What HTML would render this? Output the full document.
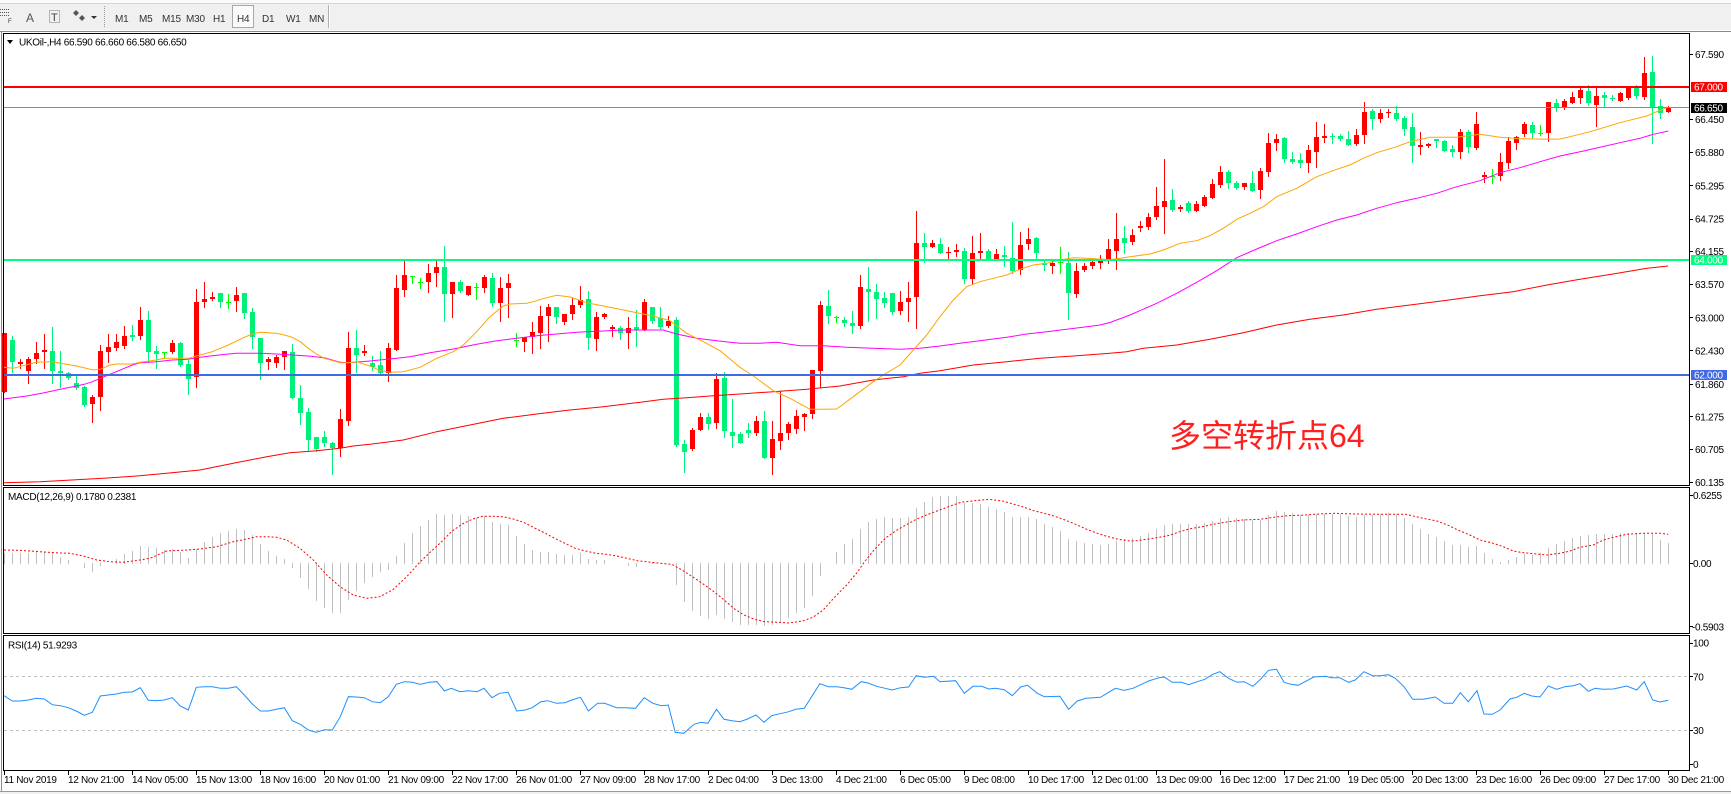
<!DOCTYPE html>
<html><head><meta charset="utf-8">
<style>
html,body{margin:0;padding:0;background:#f0f0f0;width:1731px;height:794px;overflow:hidden;}
svg{display:block;}
text{font-family:"Liberation Sans","Noto Sans CJK SC",sans-serif;}
.s{font-size:10px;letter-spacing:-0.3px;fill:#000;}
.tb{font-size:10px;letter-spacing:-0.2px;fill:#333;}
</style></head><body>
<svg id="s" width="1731" height="794" viewBox="0 0 1731 794" xmlns="http://www.w3.org/2000/svg">
<!-- toolbar -->
<rect x="0" y="0" width="1731" height="30" fill="#f0f0f0"/>
<rect x="0" y="0" width="1731" height="3" fill="#fafafa"/>
<line x1="0" y1="3.5" x2="1731" y2="3.5" stroke="#d4d4d4"/>
<g stroke="#555" stroke-dasharray="1,1">
<line x1="0" y1="9.5" x2="10" y2="9.5"/><line x1="0" y1="12.5" x2="10" y2="12.5"/><line x1="0" y1="15.5" x2="10" y2="15.5"/>
</g>
<text x="8" y="23" style="font-size:6px;fill:#333">F</text>
<text x="26" y="22" style="font-size:12px;fill:#555">A</text>
<rect x="49.5" y="10.5" width="10" height="12" fill="none" stroke="#777" stroke-dasharray="1,1"/>
<text x="51" y="21" style="font-size:11px;fill:#444">T</text>
<polygon points="76,10 79,13 76,16 73,13" fill="#555"/>
<polygon points="82,15 85,18 82,21 79,18" fill="#555"/>
<polygon points="91,16 97,16 94,19" fill="#333"/>
<line x1="104.5" y1="6" x2="104.5" y2="27" stroke="#999" stroke-dasharray="1,1"/>
<rect x="232.5" y="5.5" width="21" height="22" fill="#fbfbfb" stroke="#a8a8a8"/>
<text class="tb" x="115" y="22">M1</text>
<text class="tb" x="139" y="22">M5</text>
<text class="tb" x="162" y="22">M15</text>
<text class="tb" x="186" y="22">M30</text>
<text class="tb" x="213" y="22">H1</text>
<text class="tb" x="237" y="22">H4</text>
<text class="tb" x="262" y="22">D1</text>
<text class="tb" x="286" y="22">W1</text>
<text class="tb" x="309" y="22">MN</text>
<line x1="328.5" y1="5" x2="328.5" y2="28" stroke="#b0b0b0"/>
<line x1="329.5" y1="5" x2="329.5" y2="28" stroke="#fff"/>
<!-- chart background -->
<rect x="0" y="30" width="1731" height="761" fill="#ffffff"/>
<g id="plot" shape-rendering="crispEdges"></g>
<g id="lines"></g>
<!-- frames -->
<g fill="none" stroke="#000" shape-rendering="crispEdges">
<line x1="0" y1="31.5" x2="1731" y2="31.5" stroke="#8a8a8a"/>
<line x1="1.5" y1="31" x2="1.5" y2="791" stroke="#8a8a8a"/>
<rect x="3.5" y="33.5" width="1686" height="452"/>
<rect x="3.5" y="487.5" width="1686" height="146"/>
<rect x="3.5" y="635.5" width="1686" height="135"/>
</g>
<rect x="0" y="791" width="1731" height="3" fill="#f0f0f0"/>
<line x1="0" y1="791.5" x2="1731" y2="791.5" stroke="#9a9a9a"/>
<!-- title -->
<polygon points="7,40 13,40 10,44" fill="#000"/>
<text class="s" x="19" y="45.5">UKOil-,H4  66.590 66.660 66.580 66.650</text>
<text class="s" x="8" y="500">MACD(12,26,9) 0.1780 0.2381</text>
<text class="s" x="8" y="648.5">RSI(14) 51.9293</text>
<!-- price axis -->
<g shape-rendering="crispEdges" stroke="#000">
<line x1="1689" y1="54.5" x2="1693" y2="54.5"/>
<line x1="1689" y1="119.5" x2="1693" y2="119.5"/>
<line x1="1689" y1="152.5" x2="1693" y2="152.5"/>
<line x1="1689" y1="185.5" x2="1693" y2="185.5"/>
<line x1="1689" y1="219.5" x2="1693" y2="219.5"/>
<line x1="1689" y1="251.5" x2="1693" y2="251.5"/>
<line x1="1689" y1="284.5" x2="1693" y2="284.5"/>
<line x1="1689" y1="317.5" x2="1693" y2="317.5"/>
<line x1="1689" y1="350.5" x2="1693" y2="350.5"/>
<line x1="1689" y1="384.5" x2="1693" y2="384.5"/>
<line x1="1689" y1="416.5" x2="1693" y2="416.5"/>
<line x1="1689" y1="449.5" x2="1693" y2="449.5"/>
<line x1="1689" y1="482.5" x2="1693" y2="482.5"/>
<line x1="1689" y1="495.5" x2="1693" y2="495.5"/>
<line x1="1689" y1="563.5" x2="1693" y2="563.5"/>
<line x1="1689" y1="626.5" x2="1693" y2="626.5"/>
<line x1="1689" y1="643.5" x2="1693" y2="643.5"/>
<line x1="1689" y1="676.5" x2="1693" y2="676.5"/>
<line x1="1689" y1="730.5" x2="1693" y2="730.5"/>
<line x1="1689" y1="764.5" x2="1693" y2="764.5"/>
</g>
<text class="s" x="1695" y="58">67.590</text>
<rect x="1691" y="82" width="36" height="10" fill="#ff0000"/>
<text class="s" x="1694" y="90.5" style="fill:#fff">67.000</text>
<rect x="1691" y="103" width="36" height="10" fill="#000"/>
<text class="s" x="1694" y="111.5" style="fill:#fff">66.650</text>
<text class="s" x="1695" y="123">66.450</text>
<text class="s" x="1695" y="156">65.880</text>
<text class="s" x="1695" y="189.5">65.295</text>
<text class="s" x="1695" y="222.5">64.725</text>
<text class="s" x="1695" y="255">64.155</text>
<rect x="1691" y="255" width="36" height="10" fill="#00ff7f"/>
<text class="s" x="1694" y="263.5" style="fill:#fff">64.000</text>
<text class="s" x="1695" y="288">63.570</text>
<text class="s" x="1695" y="321.5">63.000</text>
<text class="s" x="1695" y="354.5">62.430</text>
<rect x="1691" y="370" width="36" height="10" fill="#4169e1"/>
<text class="s" x="1694" y="378.5" style="fill:#fff">62.000</text>
<text class="s" x="1695" y="388">61.860</text>
<text class="s" x="1695" y="420.5">61.275</text>
<text class="s" x="1695" y="453">60.705</text>
<text class="s" x="1695" y="486">60.135</text>
<text class="s" x="1693" y="499">0.6255</text>
<text class="s" x="1693" y="567">0.00</text>
<text class="s" x="1692" y="630.5">-0.5903</text>
<text class="s" x="1693" y="646.5">100</text>
<text class="s" x="1693" y="680.5">70</text>
<text class="s" x="1693" y="734">30</text>
<text class="s" x="1693" y="768">0</text>
<!-- annotation -->
<text x="1169" y="447" style="font-size:32px;fill:#ff1f1f;font-family:'Liberation Sans','Noto Sans CJK SC',sans-serif;">多空转折点64</text>
<!-- time axis -->
<g id="ticks" shape-rendering="crispEdges"></g>
<text class="s" x="4" y="783">11 Nov 2019</text>
<text class="s" x="68" y="783">12 Nov 21:00</text>
<text class="s" x="132" y="783">14 Nov 05:00</text>
<text class="s" x="196" y="783">15 Nov 13:00</text>
<text class="s" x="260" y="783">18 Nov 16:00</text>
<text class="s" x="324" y="783">20 Nov 01:00</text>
<text class="s" x="388" y="783">21 Nov 09:00</text>
<text class="s" x="452" y="783">22 Nov 17:00</text>
<text class="s" x="516" y="783">26 Nov 01:00</text>
<text class="s" x="580" y="783">27 Nov 09:00</text>
<text class="s" x="644" y="783">28 Nov 17:00</text>
<text class="s" x="708" y="783">2 Dec 04:00</text>
<text class="s" x="772" y="783">3 Dec 13:00</text>
<text class="s" x="836" y="783">4 Dec 21:00</text>
<text class="s" x="900" y="783">6 Dec 05:00</text>
<text class="s" x="964" y="783">9 Dec 08:00</text>
<text class="s" x="1028" y="783">10 Dec 17:00</text>
<text class="s" x="1092" y="783">12 Dec 01:00</text>
<text class="s" x="1156" y="783">13 Dec 09:00</text>
<text class="s" x="1220" y="783">16 Dec 12:00</text>
<text class="s" x="1284" y="783">17 Dec 21:00</text>
<text class="s" x="1348" y="783">19 Dec 05:00</text>
<text class="s" x="1412" y="783">20 Dec 13:00</text>
<text class="s" x="1476" y="783">23 Dec 16:00</text>
<text class="s" x="1540" y="783">26 Dec 09:00</text>
<text class="s" x="1604" y="783">27 Dec 17:00</text>
<text class="s" x="1668" y="783">30 Dec 21:00</text>
</svg>
<script>
(function(){
const NS='http://www.w3.org/2000/svg';
const P=document.getElementById('plot');
const L=document.getElementById('lines');
const T=document.getElementById('ticks');
function add(par,tag,a){const e=document.createElementNS(NS,tag);for(const k in a)e.setAttribute(k,a[k]);par.appendChild(e);return e;}
function rect(par,x,y,w,h,f){add(par,'rect',{x:x,y:y,width:w,height:h,fill:f});}
function poly(par,pts,stroke,extra){const a={points:pts.map(p=>p[0]+','+p[1]).join(' '),fill:'none',stroke:stroke,'stroke-width':1};if(extra)for(const k in extra)a[k]=extra[k];add(par,'polyline',a);}
const C=[
['r',910,1085,910,1085],['g',930,997,918,1025],['r',995,1002,987,1013],['r',987,1022,982,1058],['r',969,987,936,1000],
['r',960,965,913,1015],['g',963,1022,890,1060],['g',1022,1028,963,1070],['g',1028,1043,1025,1048],['g',1058,1073,1038,1076],
['g',1070,1125,1068,1128],['r',1100,1122,1095,1175],['r',963,1100,945,1140],['r',950,965,913,996],['r',936,953,913,960],
['r',918,947,887,955],['g',915,920,885,929],['r',870,917,830,928],['g',870,965,843,995],['g',962,971,947,1013],
['d',967,967,967,985],['r',940,965,930,970],['g',940,1005,935,1007],['g',1002,1046,990,1091],['r',815,1040,777,1070],
['r',806,815,757,830],['r',800,808,787,810],['g',790,815,790,830],['d',815,815,792,833],['r',795,812,771,842],
['g',790,848,790,863],['g',846,921,833,953],['g',925,998,925,1048],['r',987,995,980,1017],['r',982,998,975,1010],
['r',963,980,963,1016],['g',965,1105,942,1105],['g',1105,1150,1065,1182],['g',1147,1229,1133,1262],['g',1222,1257,1220,1262],
['g',1222,1240,1203,1247],['g',1240,1255,1236,1333],['r',1168,1255,1138,1277],['r',955,1172,905,1185],['g',955,975,900,1025],
['r',963,970,945,975],['g',998,1010,978,1020],['g',1005,1030,963,1030],['r',955,1030,940,1052],['r',775,960,735,960],
['r',735,780,693,798],['d',737,737,737,758],['d',755,755,745,773],['r',730,755,703,785],['r',712,728,693,767],
['g',712,792,648,872],['r',757,792,757,860],['g',757,783,750,787],['r',768,795,768,795],['d',770,770,760,808],
['r',742,773,735,785],['g',745,820,730,828],['r',775,818,740,872],['r',760,773,733,860],['d',930,930,910,947],
['r',922,935,922,962],['r',907,922,877,968],['r',858,908,828,953],['r',832,858,822,932],['g',832,862,832,878],
['r',852,875,852,883],['r',826,852,805,866],['r',810,826,768,830],['g',808,923,783,957],['r',862,926,847,960],
['r',852,862,850,865],['r',891,898,885,918],['g',893,908,887,928],['r',895,908,862,953],['g',891,900,841,948],
['r',816,900,806,900],['g',832,872,832,878],['g',865,892,832,895],['r',873,888,857,890],['g',870,1245,862,1247],
['g',1242,1265,1230,1325],['r',1200,1257,1195,1260],['r',1162,1200,1150,1200],['g',1162,1182,1150,1196],['r',1047,1178,1030,1195],
['g',1045,1202,1025,1222],['g',1205,1218,1107,1252],['g',1212,1238,1205,1240],['g',1200,1208,1180,1220],['r',1173,1208,1158,1215],
['g',1173,1283,1142,1283],['r',1228,1283,1172,1333],['r',1210,1232,1082,1258],['r',1182,1210,1175,1228],['r',1158,1198,1140,1210],
['r',1152,1160,1148,1200],['r',1020,1152,1020,1165],['r',825,1022,812,1070],['g',828,858,780,878],['d',860,860,857,875],
['g',870,878,862,888],['g',879,887,843,910],['r',772,887,735,895],['g',778,785,712,872],['g',786,806,762,865],
['g',804,820,786,830],['g',790,847,790,852],['r',817,842,783,852],['r',805,817,757,872],['r',638,802,543,895],
['g',640,652,610,697],['r',638,652,630,652],['g',642,668,624,668],['r',666,670,652,686],['r',660,665,643,678],
['g',663,748,655,760],['r',669,748,618,762],['r',662,668,610,685],['g',663,686,658,690],['r',673,686,657,688],
['g',676,682,648,707],['g',684,722,576,728],['r',645,720,606,733],['r',627,643,595,657],['g',625,670,622,684],
['g',698,704,690,721],['r',699,707,690,728],['d',695,695,651,728],['g',699,790,666,866],['r',723,793,700,802],
['r',708,720,700,724],['r',695,708,688,715],['r',690,700,675,715],['r',656,688,626,700],['r',628,662,548,716],
['g',624,638,588,668],['r',614,636,598,642],['r',588,594,574,602],['r',562,590,550,597],['r',528,560,470,566],
['r',513,530,387,608],['g',510,540,477,543],['r',531,538,525,542],['g',518,543,513,546],['r',522,542,513,542],
['r',500,527,494,527],['r',462,503,446,503],['r',426,465,408,470],['g',426,458,420,473],['g',458,473,452,476],
['r',460,470,460,477],['g',460,482,423,482],['r',424,480,414,503],['r',340,426,310,437],['r',327,340,312,360],
['g',324,386,322,395],['g',387,397,366,398],['g',390,398,370,410],['r',360,400,346,425],['r',322,365,276,410],
['r',319,323,283,337],['g',318,322,310,338],['g',317,327,312,330],['g',327,344,302,344],['r',316,343,298,345],
['r',246,315,216,340],['g',243,266,238,296],['r',250,266,238,276],['r',245,250,238,260],['g',250,268,228,270],
['g',263,296,258,314],['g',292,347,250,395],['r',345,350,306,372],['r',343,348,338,352],['g',328,332,326,350],
['g',334,362,330,364],['g',357,366,344,378],['r',306,366,298,383],['g',306,350,300,365],['r',283,355,246,357],
['r',435,442,425,455],['d',437,437,418,458],['r',397,438,370,450],['r',333,398,320,415],['r',320,338,318,358],
['r',282,312,277,318],['g',285,308,275,325],['d',310,310,285,316],['r',217,310,217,332],['g',218,235,208,243],
['r',212,235,208,237],['r',200,220,185,220],['r',180,203,170,220],['g',183,220,165,225],['r',197,225,172,287],
['g',195,205,185,227],['g',203,208,195,210],['r',188,212,187,212],['r',172,203,172,207],['g',175,198,165,205],
['r',128,200,80,208],['g',125,232,77,338],['g',227,248,207,263],['r',230,245,228,247]
];
const Y=z=>Math.round(30+z/3);
C.forEach((c,i)=>{
  const x=4+8*i;
  const col=c[0]==='r'?'#ff0000':(c[0]==='g'?'#00f07a':'#00ff00');
  const wt=Y(c[3]),wb=Y(c[4]);
  rect(P,x,wt,1,Math.max(1,wb-wt+1),col);
  const bt=Y(c[1]),bb=Y(c[2]);
  rect(P,x-2,bt,5,Math.max(1,bb-bt),col);
});
const H=[553.3,553.3,553.3,553.3,552.3,551.7,553.3,556.7,560,562.7,
567.7,571.7,566,562.7,559,554,550.7,546,546.7,547.7,
550,549,551.7,557.7,549.3,541.7,537.3,532.7,531,529.3,
530,535,544,550.7,556,559,567.7,577.7,589.3,600.7,
607.7,613.3,613.3,600,590.7,582.7,577.3,572.3,570,556,
542.7,532.7,526,519.7,514,514.7,514,515,516,518.3,
516,521.7,524,525,536,544,550,552,552,554,
555,555,553,559,560,560,563,563,566,567,
563,562.3,564.3,564.3,585,601.7,611,615.7,619,615,
619,621.7,624.7,624.7,624.7,625.7,624.7,622,617.7,612.7,
608,595.7,575.7,562.7,552,544,539,528.7,522,518.7,
517,517.7,517.7,517,508,502,497,496,496,496,
502.7,502.7,504,507.3,509,512,517,517,517,519,
524,527,531,539,541,543,543.7,545,544,540.7,
539,538,536,533,529,525,524,524,524,524,
523,521,518,517,518.3,519,520,520,515,511,
512,513,515,515,513.7,513.7,513.7,514,516,517,
514.7,514.7,514.3,513,513.7,518,524,529,534,537,
541,545,545,547,546,552.7,559,562.3,560,557.3,
554,555,553.3,547.7,544,541,538.3,536,535,534,
534,534,533.3,532.7,533.3,532.7,534.3,540,542.7];
H.forEach((v,i)=>{const x=4+8*i;const y=Math.round(v);
  if(y<563)rect(P,x,y,1,564-y,'#c0c0c0');else if(y>564)rect(P,x,563,1,y-563,'#c0c0c0');});
// RSI levels
add(L,'line',{x1:4,y1:676.5,x2:1689,y2:676.5,stroke:'#c0c0c0','stroke-dasharray':'3,3'});
add(L,'line',{x1:4,y1:730.5,x2:1689,y2:730.5,stroke:'#c0c0c0','stroke-dasharray':'3,3'});
const ORANGE=[[4,367.3],[13.3,368.3],[28.3,364.3],[36.7,362.3],[52.3,361.7],[60.3,363.3],[76.7,366],[93.3,370],[100.3,369.3],[110,365],[116.3,364],[132.3,364],[140.3,362.3],[156.3,360],[164.3,358.3],[188.3,358.3],[196.3,356],[212.3,351.7],[228.3,345],[244.3,337.3],[252.3,334],[260.3,332.3],[268.3,332.7],[276.3,333.3],[284.3,335],[292.3,337.3],[300.3,341.7],[308.3,348.3],[316.3,354],[324.3,358.3],[340.3,362.7],[348.3,362.7],[356.3,361.7],[370,366],[380,370.7],[390,372.3],[403.3,371.7],[420,367.3],[436.7,358.3],[453.3,351.7],[463.3,345],[476.7,331.7],[490,316.7],[503.3,306],[510,304],[526.7,303.3],[536.7,300.7],[546.7,297.7],[556.7,295.3],[570,297],[586.7,302.7],[603.3,306],[620,309.3],[636.7,312.7],[653.3,316],[670,320.7],[686.7,333.3],[703.3,341.7],[720,350.7],[733.3,361.7],[740,367.3],[753.3,376],[773.3,390.7],[790,398.3],[810,409.3],[823.3,409.3],[836.7,409],[853.3,396.7],[873.3,381.7],[883.3,375],[900,365],[913.3,350],[926.7,335],[940,316.7],[953.3,300],[966.7,286.7],[980,281.7],[993.3,278.3],[1006.7,275],[1020,269.3],[1033.3,265],[1046.7,263.3],[1060,260],[1073.3,257.7],[1086.7,258.3],[1110,259.7],[1130,256.7],[1150,254],[1163.3,250],[1180,243.3],[1196.7,240.7],[1210,235.7],[1223.3,228.3],[1236.7,219.3],[1250,213.3],[1263.3,206.7],[1276.7,196.7],[1296.7,188.3],[1316.7,176.7],[1336.7,169.3],[1350,165],[1363.3,158.3],[1376.7,152.7],[1396.7,146.7],[1410,141.7],[1430,137.3],[1456.7,137.3],[1480,134.2],[1500,137.3],[1520,138.7],[1546.7,139.3],[1560,139],[1570,136.7],[1590,131.7],[1606.7,126.7],[1620,122.7],[1633.3,119.3],[1646.7,116],[1656.7,111.7],[1666.7,107.7]];
const MAG=[[4,399],[28.3,395.7],[44.3,392.7],[60.3,389.3],[76.3,386],[84.3,384.3],[92.3,381.7],[100.3,378.3],[108.3,375],[116.3,371.7],[124.3,368.3],[132.3,365],[140.3,362.7],[156.3,361.7],[172.3,360],[188.3,359.3],[196.3,357.7],[212.3,355.7],[228.3,354],[236.3,353.3],[260.3,353.3],[276.3,354],[292.3,355],[308.3,356],[324.3,357.7],[340.3,362.3],[348.3,362.7],[370,361],[390,359],[410,356.7],[430,352.7],[453.3,349],[476.7,344.3],[496.7,340.7],[516.7,338.3],[536.7,335.7],[556.7,334],[576.7,332.3],[603.3,331],[623.3,330],[663.3,330],[676.7,334],[696.7,338.3],[716.7,340.7],[730,342.3],[740,343.3],[760,343.3],[776.7,342.3],[800,345.7],[823.3,345.7],[846.7,347.3],[873.3,348.3],[900,349.3],[920,348.3],[940,346],[960,343.3],[980,340.7],[1006.7,337.3],[1026.7,334],[1046.7,331.7],[1066.7,329.3],[1086.7,326.7],[1100,325],[1110,322.5],[1130,315],[1156.7,303.3],[1176.7,293.3],[1196.7,282.3],[1216.7,270.7],[1236.7,257.7],[1256.7,249],[1276.7,240.7],[1296.7,234],[1316.7,226.7],[1336.7,220],[1356.7,215],[1376.7,208.3],[1396.7,202.7],[1416.7,198.3],[1436.7,193.3],[1456.7,186.7],[1480,180.7],[1500,172.7],[1520,167.7],[1540,161.7],[1560,156],[1580,151.7],[1600,147.3],[1620,142.7],[1640,138.3],[1653.3,134.3],[1668.3,131]];
const REDMA=[[4,482.7],[40,481.7],[71.7,480],[103.3,478.3],[136.7,476],[166.7,473.3],[200,470],[233.3,463.3],[266.7,456.7],[290,452.7],[316.7,450.7],[340,448.3],[353.3,446],[370,444.3],[403.3,440],[436.7,431.7],[470,425],[503.3,418.3],[536.7,414],[570,410],[603.3,406.7],[636.7,402.7],[663.3,399.3],[686.7,397.7],[713.3,395.7],[740,394],[773.3,391.7],[806.7,389.3],[840,386],[873.3,380],[903.3,376.7],[920,373.3],[940,370.7],[973.3,365],[1006.7,361.7],[1040,358.3],[1073.3,356],[1110,353.3],[1126.7,351.7],[1143.3,348.3],[1176.7,345],[1210,339.3],[1243.3,332.7],[1276.7,325],[1310,319.3],[1343.3,315],[1376.7,309.3],[1410,305],[1443.3,300.7],[1480,295.7],[1513,291.7],[1547,285],[1580,279.3],[1613,274],[1647,268.3],[1668,266]];
poly(L,REDMA,'#ff0000');
poly(L,MAG,'#ff00ff');
poly(L,ORANGE,'#ffa500');
// horizontal objects
rect(L,4,86,1685,2,'#ff0000');
rect(L,4,107,1685,1,'#8c8c8c');
rect(L,4,259,1685,2,'#00ff7f');
rect(L,4,374,1685,2,'#4169e1');
const SIG=[[4,550],[20,550.3],[40,551.7],[60,553],[70,553.3],[83.3,556],[96.7,560],[110,561.7],[123.3,562.3],[140,560],[150,558.3],[166.7,551],[186.7,550],[200,549],[216.7,546.7],[233.3,541.7],[246.7,539],[256.7,536.7],[266.7,536.7],[276.7,537.3],[286.7,540],[300,548.3],[313.3,560],[326.7,575],[340,586.7],[353.3,595],[366.7,598.3],[380,596.7],[393.3,589.3],[406.7,576.7],[420.3,561.7],[430.7,551.7],[441,542.3],[451.3,531.7],[461.7,524.3],[472,519.3],[482.3,516.3],[492.6,516.3],[503,516.7],[513.3,519],[523.6,522.3],[534,527.7],[544.3,532.7],[554.6,538.3],[565,543.3],[575.3,548.3],[585.6,551],[596,553.3],[606.3,554.3],[616.6,556],[627,558.3],[637.3,560.7],[651,562.3],[664.8,563.7],[671.7,564.3],[682,570],[692.4,576.7],[702.7,583.7],[713,591],[723.4,599.3],[733.7,608.3],[744,615],[754.4,619.3],[764.7,621.7],[778.4,622.3],[788.8,623],[802.6,621],[812.9,617.3],[823.2,610],[833.6,598.3],[847.3,584.3],[857.7,571.7],[864.5,561.7],[874.9,549],[885.2,538.3],[895.5,531],[905.9,525],[916.2,519.3],[926.5,515],[936.9,511],[950.4,506],[960.9,502.3],[974.8,500.7],[988.7,499.3],[1002.6,501],[1013,504],[1023.4,507],[1033.8,510.7],[1044.3,513.3],[1054.7,516.3],[1065.1,520],[1075.6,524.3],[1086,529],[1096.4,533],[1106.8,536.3],[1117.3,539],[1127.7,540.7],[1134.6,541],[1148.5,539],[1159,537.3],[1169.4,535.3],[1179.8,531.7],[1190.3,528.7],[1204.2,526.3],[1214.6,524],[1228.5,521.7],[1242.4,520],[1259.8,519.3],[1273.7,517.3],[1287.6,515.7],[1305,515],[1318.9,514],[1332.8,513.3],[1357.1,514],[1384.9,514.3],[1405.8,514.3],[1416.1,516.7],[1426.6,519],[1437,521],[1447.5,525],[1457.9,530],[1468.3,534.3],[1480,540],[1493.3,543.3],[1503.3,546.7],[1513.3,551],[1523.3,552.7],[1536.7,554],[1546.7,555],[1560,553.3],[1570,551],[1580,547.3],[1593.3,545],[1603.3,540],[1613.3,537.3],[1626.7,534.3],[1643.3,533.3],[1660,533.3],[1668.3,534.3]];
poly(L,SIG,'#ff0000',{'stroke-dasharray':'2,2'});
const RSI=[[4,695.7],[12.3,701],[20.3,701],[28.3,700],[36.3,698.3],[44.3,699],[52.3,704.7],[60.3,705.7],[68.3,707.7],[76.3,711],[84.3,715.3],[92.3,712.3],[100.3,696],[108.3,695],[116.3,694],[124.3,692.3],[132.3,692],[140.3,687.7],[148.3,700.3],[156.3,700.7],[164.3,700],[172.3,697.7],[180.3,706],[188.3,710],[196.3,687.3],[204.3,686.7],[212.3,686.7],[220.3,688.3],[228.3,688.3],[236.3,686.7],[244.3,695],[252.3,704],[260.3,711],[268.3,711],[276.3,709.3],[284.3,707.7],[292.3,720.7],[300.3,724.3],[308.3,730],[316.3,732.3],[324.3,729.7],[332.3,730],[340.3,716.7],[348.3,696.7],[356.3,697],[364.3,697.7],[372.3,701.7],[380.3,702.7],[388.3,696.7],[396.3,684.3],[404.3,681.7],[412.3,682.3],
[420.3,684.3],[428.9,682.3],[436.9,681.7],[444.4,691],[451.3,688.3],[459.9,691.7],[468.5,690.7],[477.1,691.7],[484,688.3],[492,697.7],[499.5,693.3],[508.1,692.3],[516.7,711],[525.4,710],[532.2,707.7],[540.9,701.7],[547.7,700.7],[556.4,703.3],[565,702.7],[571.8,700],[580.5,697.3],[588.4,711],[597.7,703.3],[604.6,703.3],[616.6,707.7],[625.2,707.7],[635.5,708.3],[644.2,697.7],[652.8,703.3],[661.4,705.7],[668.3,705],[675.2,732.3],[683.8,733.3],[694.1,724.3],[701,722.3],[707.9,723.3],[716.5,709.3],[724,719.3],[732,720.7],[739.9,721.7],[747.5,719],[756.1,715],[764,722.3],[771.6,715.7],[780.2,713.7],[788.8,711.7],[795.7,709.3],[804.3,708.3],[819.8,683.7],[828.4,686.7],[837,686.7],[843.9,687.7],[851.8,689.3],[861.1,681.7],[868,683],[876.6,686.3],[885.2,688.3],[892.1,690],[900.7,687.7],[908.6,687],[916.2,675.7],[924.8,677.3],[933.4,676.3],
[940,681.7],[955.6,680.7],[964.3,693.3],[973,686.3],[981.7,686.3],[988.7,689],[995.6,688.3],[1004.3,689.7],[1012.3,695.7],[1020.6,687],[1027.6,685.3],[1037.3,693.3],[1044.3,696.7],[1059.9,696.3],[1068.6,709.3],[1077.3,701],[1086,698.3],[1100.6,697.3],[1108.6,692.3],[1115.5,688.3],[1124.2,690.3],[1132.9,688.3],[1141.6,684.3],[1148.5,681],[1159,677.7],[1164.2,677],[1172.2,682.3],[1181.6,682.3],[1188.5,684.7],[1197.2,681.7],[1204.9,679.3],[1212.8,674.3],[1219.8,671.7],[1228.5,678.3],[1237.2,682.3],[1244.1,681.7],[1252.8,686.3],[1259.8,680],[1268.5,670.3],[1276.5,669.3],[1284.1,682.3],[1291.1,684.3],[1298.1,685.3],[1305,681.7],[1313.7,677],[1325.8,676.3],[1331,677.7],[1339.8,677.7],[1348.4,682.3],[1355.3,680],[1364,671.7],[1372.7,675.7],[1379.7,675.7],[1388.4,674.7],[1395.3,678.3],[1404,686.7],[1412.7,699.3],[1423.1,699.3],[1430.1,698],[1435.3,697],[1444,703.3],[1452.7,703.3],[1460.3,692.7],[1468.3,701.7],[1477,690.7],
[1484,714],[1492.3,714.3],[1500,710],[1510,699],[1516.7,697.3],[1524.3,693.3],[1531.7,696],[1540,697],[1548.3,686],[1556.7,689.3],[1565,686.7],[1573.3,685.7],[1580,683.7],[1588.3,691.3],[1595,688.3],[1603.3,689.3],[1613.3,689],[1626.7,686],[1636.7,690],[1644.3,681.7],[1652.7,700],[1660,702],[1668.3,700.3]];
poly(L,RSI,'#1e90ff');
for(let k=0;k<27;k++){const x=4+64*k;rect(T,x,771,1,4,'#000');}
})();
</script>
</body></html>
